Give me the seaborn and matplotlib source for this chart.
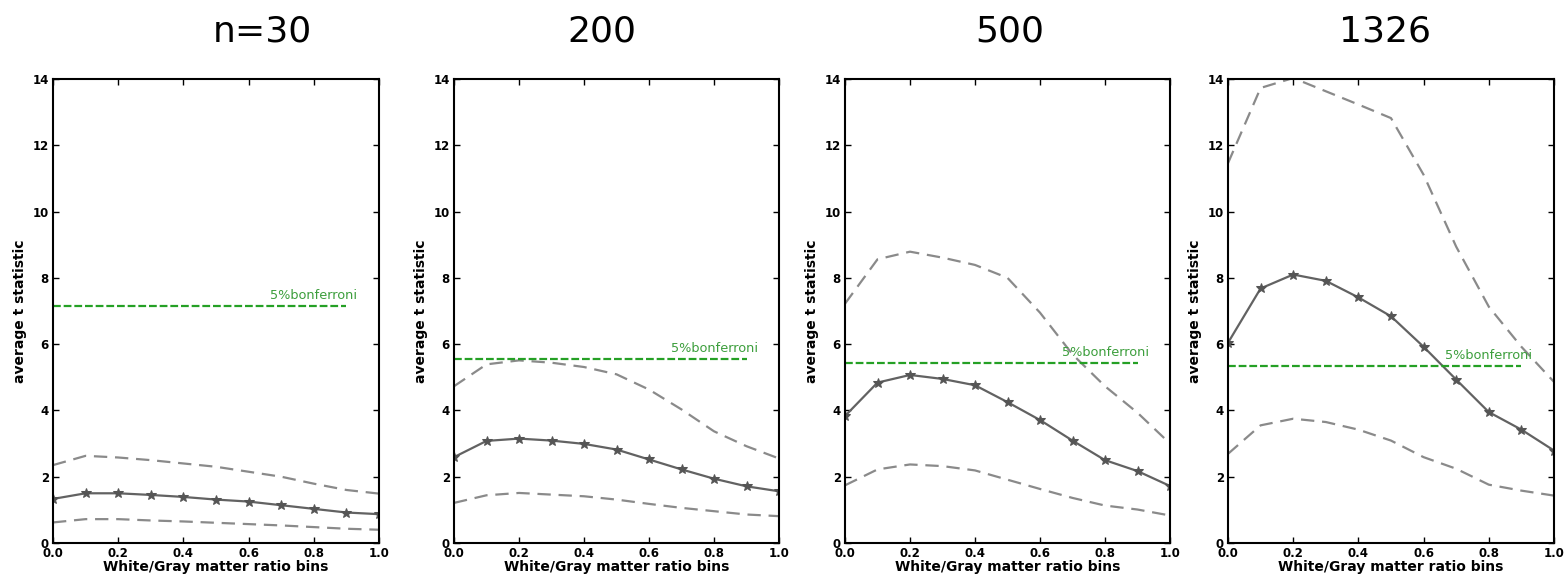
import numpy as np
import pandas as pd
import matplotlib
matplotlib.use("Agg")
import matplotlib.pyplot as plt
import seaborn as sns

# bins on the x axis
bins = [0.0, 0.1, 0.2, 0.3, 0.4, 0.5, 0.6, 0.7, 0.8, 0.9, 1.0]
titles = ["n=30", "200", "500", "1326"]

# average t statistic per panel
mean_t = [
    [1.33, 1.50, 1.50, 1.45, 1.39, 1.31, 1.25, 1.14, 1.03, 0.92, 0.87],
    [2.59, 3.08, 3.15, 3.09, 2.99, 2.82, 2.52, 2.22, 1.94, 1.71, 1.56],
    [3.83, 4.84, 5.07, 4.95, 4.76, 4.25, 3.71, 3.09, 2.50, 2.17, 1.72],
    [6.04, 7.68, 8.10, 7.91, 7.41, 6.84, 5.92, 4.93, 3.95, 3.42, 2.79],
]
upper_t = [
    [2.35, 2.63, 2.58, 2.50, 2.40, 2.30, 2.15, 2.00, 1.79, 1.60, 1.49],
    [4.73, 5.39, 5.51, 5.44, 5.31, 5.09, 4.63, 4.03, 3.37, 2.92, 2.55],
    [7.22, 8.56, 8.79, 8.61, 8.39, 8.00, 6.95, 5.69, 4.73, 3.93, 3.00],
    [11.46, 13.73, 14.03, 13.63, 13.23, 12.82, 11.11, 8.94, 7.13, 5.92, 4.86],
]
lower_t = [
    [0.62, 0.72, 0.72, 0.68, 0.65, 0.61, 0.57, 0.53, 0.48, 0.43, 0.40],
    [1.21, 1.44, 1.51, 1.46, 1.41, 1.31, 1.18, 1.06, 0.96, 0.86, 0.81],
    [1.74, 2.22, 2.37, 2.32, 2.19, 1.91, 1.63, 1.36, 1.13, 1.01, 0.83],
    [2.69, 3.55, 3.75, 3.65, 3.42, 3.09, 2.59, 2.24, 1.76, 1.58, 1.43],
]
bonferroni = [7.16, 5.56, 5.43, 5.34]

sns.set_style("ticks")
plt.rcParams["font.family"] = ["DejaVu Sans"]
plt.rcParams["text.color"] = "black"
plt.rcParams["axes.labelcolor"] = "black"
plt.rcParams["xtick.color"] = "black"
plt.rcParams["ytick.color"] = "black"

fig = plt.figure(figsize=(15.66, 5.80), dpi=100)

# panel placement in pixels and title centres
lefts = [53, 454, 845, 1228]
widths = [326, 325, 325, 326]
title_x = [262, 602, 1010, 1385]
W, H = 1566.0, 580.0

for i in range(4):
    ax = fig.add_axes([lefts[i] / W, 37 / H, widths[i] / W, 464 / H])
    df = pd.DataFrame({"bin": bins, "mean": mean_t[i],
                       "upper": upper_t[i], "lower": lower_t[i]})

    # spread lines (dashed grey)
    sns.lineplot(data=df, x="bin", y="upper", ax=ax, color="#8a8a8a",
                 linewidth=1.6, linestyle=(0, (6, 3.5)))
    sns.lineplot(data=df, x="bin", y="lower", ax=ax, color="#8a8a8a",
                 linewidth=1.6, linestyle=(0, (6, 3.5)))
    # mean line with markers
    sns.lineplot(data=df, x="bin", y="mean", ax=ax, color="#626262",
                 linewidth=1.6, marker="*", markersize=7,
                 markerfacecolor="#555555", markeredgecolor="#555555")

    ax.hlines(bonferroni[i], 0.0, 0.9, colors="#25a025",
              linestyles=(0, (3.5, 1.3)), linewidth=1.6)
    ax.text(0.667, bonferroni[i] + 0.12, "5%bonferroni", color="#3c9e3c",
            fontsize=9.3, ha="left", va="bottom")

    ax.set_xlim(0, 1.0)
    ax.set_ylim(0, 14)
    ax.set_xticks([0.0, 0.2, 0.4, 0.6, 0.8, 1.0])
    ax.set_yticks([0, 2, 4, 6, 8, 10, 12, 14])
    ax.set_xticklabels(["0.0", "0.2", "0.4", "0.6", "0.8", "1.0"])
    ax.tick_params(direction="in", length=4, width=1, top=True, right=True,
                   labelsize=8.5, pad=3)
    for lab in ax.get_xticklabels() + ax.get_yticklabels():
        lab.set_fontweight("bold")
    for sp in ax.spines.values():
        sp.set_visible(True)
        sp.set_linewidth(1.5)
        sp.set_color("black")

    ax.set_xlabel("White/Gray matter ratio bins", fontsize=10, fontweight="bold",
                  labelpad=0)
    ax.set_ylabel("average t statistic", fontsize=10, fontweight="bold",
                  labelpad=4)

    fig.text(title_x[i] / W, 1 - 42 / H, titles[i], fontsize=26, color="black",
             ha="center", va="baseline")

fig.savefig("out.png", dpi=100)
